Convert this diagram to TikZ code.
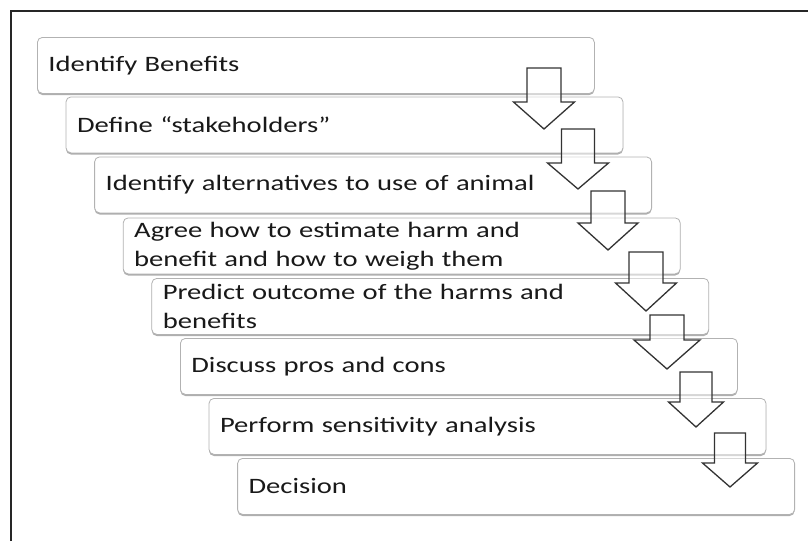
\documentclass[tikz,border=0pt]{standalone}
\usepackage{fontspec}
\setmainfont{Carlito}[FakeStretch=1.3]
\usetikzlibrary{shadows}

\begin{document}
\begin{tikzpicture}[x=1pt,y=-1pt]
\tikzstyle{every node}+=[inner sep=0pt]
\tikzstyle{stepbox}=[draw=gray!60, fill=white, rounded corners=5pt, line width=0.8pt,
  minimum width=557pt, minimum height=56pt, text width=535pt, align=left,
  anchor=north west, font=\fontsize{22}{29}\selectfont, text=black!90,
  drop shadow={shadow xshift=0pt, shadow yshift=-1.6pt, fill=gray!70, opacity=0.9}]
\tikzstyle{blockarrow}=[draw=black!80, line width=1.3pt, fill=white, fill opacity=0.5, miter limit=10]
\useasboundingbox (0,0) rectangle (808,541);
% frame
\draw [black!85, line width=2pt] (11,541) -- (11,11) -- (808,11);
% steps
\node [stepbox] (benefits) at (37,37) {Identify Benefits};
\node [stepbox] (stakeholders) at (65.6,96.5) {Define “stakeholders”};
\node [stepbox] (alternatives) at (94.2,156.5) {Identify alternatives to use of animal};
\node [stepbox] (estimate) at (122.8,217.5) {Agree how to estimate harm and\\benefit and how to weigh them};
\node [stepbox] (predict) at (151.4,278) {Predict outcome of the harms and\\benefits};
\node [stepbox] (proscons) at (180,338) {Discuss pros and cons};
\node [stepbox] (sensitivity) at (208.6,398) {Perform sensitivity analysis};
\node [stepbox] (decision) at (237.2,458) {Decision};
% arrows
\draw [blockarrow] (527,68) -- (561,68) -- (561,102) -- (574.5,102) -- (544,129) -- (513.5,102) -- (527,102) -- cycle;
\draw [blockarrow] (561.5,129) -- (594.5,129) -- (594.5,163) -- (608.5,163) -- (578,189) -- (547.5,163) -- (561.5,163) -- cycle;
\draw [blockarrow] (591,191) -- (625,191) -- (625,223) -- (638,223) -- (608,250) -- (578,223) -- (591,223) -- cycle;
\draw [blockarrow] (629,252) -- (663,252) -- (663,283) -- (676.5,283) -- (646,311) -- (615.5,283) -- (629,283) -- cycle;
\draw [blockarrow] (650,315) -- (684,315) -- (684,340) -- (700,340) -- (667,369) -- (634,340) -- (650,340) -- cycle;
\draw [blockarrow] (680,372) -- (712,372) -- (712,402) -- (723.5,402) -- (696,427) -- (668.5,402) -- (680,402) -- cycle;
\draw [blockarrow] (714.5,433) -- (745.5,433) -- (745.5,463) -- (757.5,463) -- (730,487) -- (702.5,463) -- (714.5,463) -- cycle;
\end{tikzpicture}
\end{document}
